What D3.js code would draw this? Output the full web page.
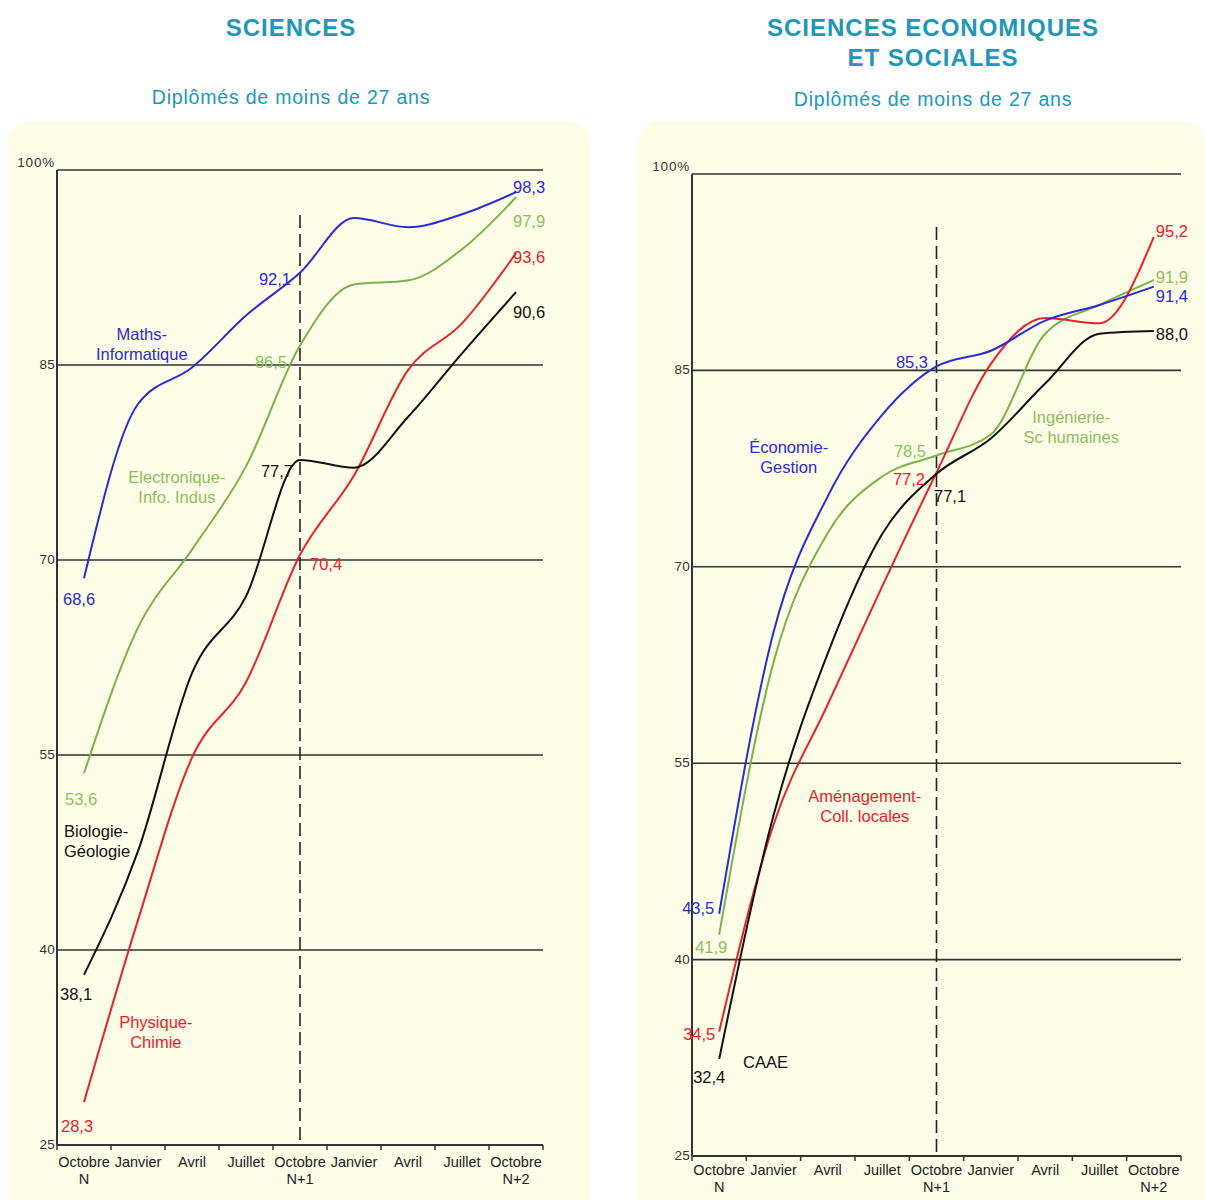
<!DOCTYPE html>
<html><head><meta charset="utf-8">
<script src="https://cdn.jsdelivr.net/npm/d3@7"></script>
<style>
body{margin:0;background:#fff;}
svg{display:block;font-family:"Liberation Sans",Arial,Helvetica,sans-serif;}
</style>
</head><body>
<svg id="c" width="1206" height="1200"></svg>
<script>
// ---------- DATA ----------
const monthLabels = ["Octobre|N","Janvier","Avril","Juillet","Octobre|N+1","Janvier","Avril","Juillet","Octobre|N+2"];
const yTicks = [25, 40, 55, 70, 85, 100];

// Sciences
const sciMaths = [68.6, 82.0, 84.8, 88.8, 92.1, 96.3, 95.6, 96.6, 98.3];
const sciElec  = [53.6, 64.8, 70.8, 77.2, 86.5, 91.2, 91.5, 93.9, 97.9];
const sciBio   = [38.1, 47.6, 61.3, 67.2, 77.7, 77.1, 81.0, 85.9, 90.6];
const sciPhys  = [28.3, 42.3, 54.8, 60.6, 70.4, 76.5, 84.6, 88.2, 93.6];

// Sciences économiques et sociales
const sesEco  = [43.5, 65.0, 75.4, 81.6, 85.3, 86.5, 88.8, 90.0, 91.4];
const sesIng  = [41.9, 62.7, 72.6, 76.9, 78.5, 80.1, 87.8, 90.0, 91.9];
const sesAme  = [34.5, 50.3, 59.5, 68.5, 77.2, 85.5, 89.0, 88.6, 95.2];
const sesCaae = [32.4, 51.0, 63.4, 72.5, 77.1, 79.8, 84.0, 87.8, 88.0];

// ---------- STYLE ----------
const C = {blue:"#2b2bd6", green:"#7ab24c", greenTxt:"#8cbf5e", red:"#e8222a", black:"#111111",
           axis:"#333333", title:"#2196bb", panel:"#fdfde8"};

const svg = d3.select("#c");

function drawChart(o) {
  const g = svg.append("g");
  // panel
  g.append("rect").attr("x", o.panel[0]).attr("y", o.panel[1])
    .attr("width", o.panel[2]).attr("height", o.panel[3])
    .attr("rx", 22).attr("fill", C.panel);

  // titles
  o.titles.forEach((t, i) => {
    g.append("text").attr("x", o.cx).attr("y", o.titleY[i]).attr("text-anchor","middle")
      .attr("font-size", 24).attr("font-weight","bold").attr("letter-spacing", 1)
      .attr("fill", C.title).text(t);
  });
  g.append("text").attr("x", o.cx).attr("y", o.subY).attr("text-anchor","middle")
    .attr("font-size", 19.5).attr("letter-spacing", 0.8).attr("fill", C.title)
    .text("Diplômés de moins de 27 ans");

  const x = d3.scaleBand().domain(d3.range(monthLabels.length)).range(o.xr).paddingInner(0).paddingOuter(0);
  const y = d3.scaleLinear().domain([25, 100]).range(o.yr);
  const bw = x.bandwidth();
  const cx = i => o.xr[0] + bw * (i + 0.5);

  // horizontal gridlines
  g.selectAll(".grid").data(yTicks).join("line")
    .attr("x1", o.xr[0]).attr("x2", o.xr[1])
    .attr("y1", d => y(d)).attr("y2", d => y(d))
    .attr("stroke", C.axis).attr("stroke-width", 1.6);

  // y axis line
  g.append("line").attr("x1", o.xr[0]).attr("x2", o.xr[0]).attr("y1", y(100)).attr("y2", y(25))
    .attr("stroke", C.axis).attr("stroke-width", 2);

  // y tick labels
  g.selectAll(".yl").data(yTicks).join("text")
    .attr("x", o.xr[0] - 2).attr("y", d => d === 100 ? y(d) - 3 : y(d) + 4)
    .attr("text-anchor", "end").attr("font-size", 13.5).attr("letter-spacing", d => d === 100 ? 0.8 : 0.3)
    .attr("fill", C.axis).text(d => d === 100 ? "100%" : d);

  // x axis ticks
  const ax = g.append("g").attr("transform", `translate(0,${y(25)})`);
  const bounds = d3.range(monthLabels.length + 1).map(i => o.xr[0] + bw * i);
  ax.selectAll(".tk").data(bounds).join("line")
    .attr("x1", d => d).attr("x2", d => d).attr("y1", 0).attr("y2", 5)
    .attr("stroke", C.axis).attr("stroke-width", 1.5);
  ax.append("line").attr("x1", o.xr[0]).attr("x2", o.xr[1]).attr("y1", 0).attr("y2", 0)
    .attr("stroke", C.axis).attr("stroke-width", 2);

  monthLabels.forEach((m, i) => {
    const parts = m.split("|");
    parts.forEach((p, k) => {
      ax.append("text").attr("x", cx(i)).attr("y", o.xlabDy + k * 17)
        .attr("text-anchor", "middle").attr("font-size", 14.5).attr("fill", "#222").text(p);
    });
  });

  // dashed vertical line at Octobre N+1
  g.append("line").attr("x1", cx(4)).attr("x2", cx(4)).attr("y1", o.dashTop).attr("y2", y(25))
    .attr("stroke", "#222").attr("stroke-width", 1.6).attr("stroke-dasharray", "13,6");

  // series lines
  const line = d3.line().x((d, i) => cx(i)).y(d => y(d)).curve(d3.curveMonotoneX);
  o.series.forEach(s => {
    g.append("path").datum(s.values).attr("d", line).attr("fill", "none")
      .attr("stroke", s.color).attr("stroke-width", 2);
  });

  // value labels
  o.valueLabels.forEach(l => {
    const s = l.s;
    g.append("text").attr("x", cx(l.i) + l.dx).attr("y", y(s.values[l.i]) + l.dy)
      .attr("text-anchor", l.a || "start").attr("font-size", 16.5)
      .attr("fill", s.txt || s.color).text(d3.format(".1f")(s.values[l.i]).replace(".", ","));
  });

  // name labels
  o.names.forEach(n => {
    const t = g.append("text").attr("font-size", 16.5).attr("fill", n.s.txt || n.s.color)
      .attr("text-anchor", n.a || "middle");
    n.lines.forEach((ln, k) => {
      t.append("tspan").attr("x", cx(n.t)).attr("y", y(n.v) + k * 20).text(ln);
    });
  });
}

// ---------- LEFT: SCIENCES ----------
const L = {
  maths:{values:sciMaths, color:C.blue},
  elec:{values:sciElec, color:C.green, txt:C.greenTxt},
  bio:{values:sciBio, color:C.black},
  phys:{values:sciPhys, color:C.red}
};
drawChart({
  panel:[8, 121, 582, 1100], cx:291, titles:["SCIENCES"], titleY:[36], subY:104,
  xr:[57, 543], yr:[1145, 170], xlabDy:22, dashTop:215,
  series:[L.elec, L.phys, L.bio, L.maths],
  valueLabels:[
    {s:L.maths,i:8,dx:-3,dy:1},{s:L.elec,i:8,dx:-3,dy:30},{s:L.phys,i:8,dx:-3,dy:10},{s:L.bio,i:8,dx:-3,dy:26},
    {s:L.maths,i:4,dx:-9,dy:12,a:"end"},{s:L.elec,i:4,dx:-13,dy:22.5,a:"end"},{s:L.bio,i:4,dx:-7,dy:17,a:"end"},
    {s:L.phys,i:4,dx:10,dy:15},
    {s:L.maths,i:0,dx:-21,dy:27},{s:L.elec,i:0,dx:-19,dy:32},{s:L.bio,i:0,dx:-24,dy:25},{s:L.phys,i:0,dx:-23,dy:30}
  ],
  names:[
    {s:L.maths, t:1.07, v:86.9, lines:["Maths-","Informatique"]},
    {s:L.elec, t:1.72, v:75.9, lines:["Electronique-","Info. Indus"]},
    {s:L.bio, t:-0.37, v:48.7, lines:["Biologie-","Géologie"], a:"start"},
    {s:L.phys, t:1.33, v:34.0, lines:["Physique-","Chimie"]}
  ]
});

// ---------- RIGHT: SCIENCES ECONOMIQUES ET SOCIALES ----------
const R = {
  eco:{values:sesEco, color:C.blue},
  ing:{values:sesIng, color:C.green, txt:C.greenTxt},
  ame:{values:sesAme, color:C.red},
  caae:{values:sesCaae, color:C.black}
};
drawChart({
  panel:[637, 121, 568, 1100], cx:933, titles:["SCIENCES ECONOMIQUES","ET SOCIALES"], titleY:[36,66], subY:106,
  xr:[692, 1181], yr:[1156, 174], xlabDy:19, dashTop:227,
  series:[R.ing, R.ame, R.caae, R.eco],
  valueLabels:[
    {s:R.ame,i:8,dx:2,dy:0},{s:R.ing,i:8,dx:2,dy:3},{s:R.eco,i:8,dx:2,dy:15},{s:R.caae,i:8,dx:2,dy:9},
    {s:R.eco,i:4,dx:-8.5,dy:1.5,a:"end"},{s:R.ing,i:4,dx:-10.5,dy:1.5,a:"end"},{s:R.ame,i:4,dx:-11.5,dy:12.5,a:"end"},
    {s:R.caae,i:4,dx:-2.5,dy:28},
    {s:R.eco,i:0,dx:-37,dy:0},{s:R.ing,i:0,dx:-24,dy:18},{s:R.ame,i:0,dx:-36,dy:8},{s:R.caae,i:0,dx:-26,dy:24}
  ],
  names:[
    {s:R.eco, t:1.28, v:78.7, lines:["Économie-","Gestion"]},
    {s:R.ing, t:6.48, v:81.0, lines:["Ingénierie-","Sc humaines"]},
    {s:R.ame, t:2.68, v:52.0, lines:["Aménagement-","Coll. locales"]},
    {s:R.caae, t:0.44, v:31.7, lines:["CAAE"], a:"start"}
  ]
});
</script>
</body></html>
